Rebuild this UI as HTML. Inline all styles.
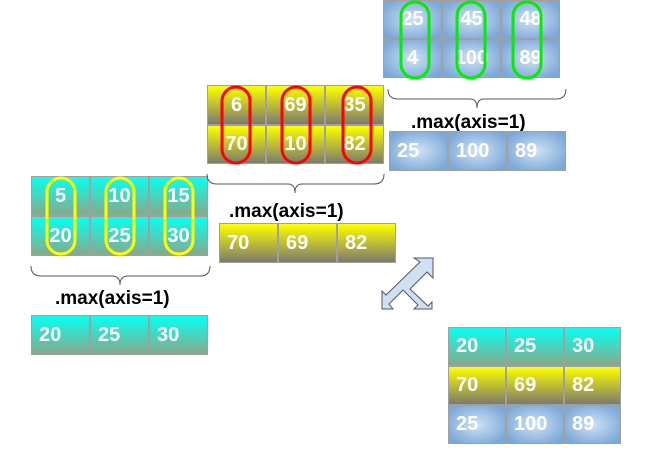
<!DOCTYPE html>
<html><head><style>
body{margin:0;width:646px;height:464px;background:#fff;position:relative;overflow:hidden;font-family:"Liberation Sans",sans-serif}
.c{position:absolute;box-sizing:border-box;border:1px solid #a0a0a0;color:#fff;font-weight:bold;font-size:20px;display:flex;align-items:center}
.cy{background:linear-gradient(#08fff0,#8aa88a)}
.yl{background:linear-gradient(#ffff00,#7c7a70)}
.bl{background:radial-gradient(ellipse at center,#cfe2f4 0%,#7ca8d8 85%)}
.ctr{justify-content:center}
.lft{padding-left:7px}
.lb{position:absolute;font-weight:bold;font-size:19px;color:#000}
svg{position:absolute;left:0;top:0}
</style></head><body>
<!-- cyan grid -->
<div class="c cy ctr" style="left:31px;top:176px;width:59px;height:40px">5</div>
<div class="c cy ctr" style="left:90px;top:176px;width:59px;height:40px">10</div>
<div class="c cy ctr" style="left:149px;top:176px;width:59px;height:40px">15</div>
<div class="c cy ctr" style="left:31px;top:216px;width:59px;height:40px">20</div>
<div class="c cy ctr" style="left:90px;top:216px;width:59px;height:40px">25</div>
<div class="c cy ctr" style="left:149px;top:216px;width:59px;height:40px">30</div>
<div class="lb" style="left:55px;top:288px">.max(axis=1)</div>
<div class="c cy lft" style="left:31px;top:315px;width:59px;height:40px">20</div>
<div class="c cy lft" style="left:90px;top:315px;width:59px;height:40px">25</div>
<div class="c cy lft" style="left:149px;top:315px;width:59px;height:40px">30</div>
<!-- yellow grid -->
<div class="c yl ctr" style="left:207px;top:85px;width:59px;height:40px">6</div>
<div class="c yl ctr" style="left:266px;top:85px;width:59px;height:40px">69</div>
<div class="c yl ctr" style="left:325px;top:85px;width:59px;height:40px">35</div>
<div class="c yl ctr" style="left:207px;top:125px;width:59px;height:39px">70</div>
<div class="c yl ctr" style="left:266px;top:125px;width:59px;height:39px">10</div>
<div class="c yl ctr" style="left:325px;top:125px;width:59px;height:39px">82</div>
<div class="lb" style="left:229px;top:201px">.max(axis=1)</div>
<div class="c yl lft" style="left:219px;top:223px;width:59px;height:40px">70</div>
<div class="c yl lft" style="left:278px;top:223px;width:59px;height:40px">69</div>
<div class="c yl lft" style="left:337px;top:223px;width:59px;height:40px">82</div>
<!-- blue grid -->
<div class="c bl ctr" style="left:383px;top:0px;width:59px;height:39px">25</div>
<div class="c bl ctr" style="left:442px;top:0px;width:59px;height:39px">45</div>
<div class="c bl ctr" style="left:501px;top:0px;width:59px;height:39px">48</div>
<div class="c bl ctr" style="left:383px;top:39px;width:59px;height:39px">4</div>
<div class="c bl ctr" style="left:442px;top:39px;width:59px;height:39px">100</div>
<div class="c bl ctr" style="left:501px;top:39px;width:59px;height:39px">89</div>
<div class="lb" style="left:411px;top:112px">.max(axis=1)</div>
<div class="c bl lft" style="left:389px;top:131px;width:59px;height:40px">25</div>
<div class="c bl lft" style="left:448px;top:131px;width:59px;height:40px">100</div>
<div class="c bl lft" style="left:507px;top:131px;width:59px;height:40px">89</div>
<!-- final -->
<div class="c cy lft" style="left:448px;top:327px;width:58px;height:39px">20</div>
<div class="c cy lft" style="left:506px;top:327px;width:58px;height:39px">25</div>
<div class="c cy lft" style="left:564px;top:327px;width:57px;height:39px">30</div>
<div class="c yl lft" style="left:448px;top:366px;width:58px;height:39px">70</div>
<div class="c yl lft" style="left:506px;top:366px;width:58px;height:39px">69</div>
<div class="c yl lft" style="left:564px;top:366px;width:57px;height:39px">82</div>
<div class="c bl lft" style="left:448px;top:405px;width:58px;height:39px">25</div>
<div class="c bl lft" style="left:506px;top:405px;width:58px;height:39px">100</div>
<div class="c bl lft" style="left:564px;top:405px;width:57px;height:39px">89</div>
<svg width="646" height="464" viewBox="0 0 646 464">
<g fill="none" stroke-width="3">
<g stroke="#ffff00">
<rect x="47" y="178" width="28" height="76" rx="14"/>
<rect x="106" y="178" width="28" height="76" rx="14"/>
<rect x="165" y="178" width="28" height="76" rx="14"/>
</g>
<g stroke="#ff0000">
<rect x="222" y="87" width="28" height="76" rx="14"/>
<rect x="282" y="87" width="28" height="76" rx="14"/>
<rect x="343" y="87" width="28" height="76" rx="14"/>
</g>
<g stroke="#00ee00">
<rect x="401" y="2" width="28" height="76" rx="14"/>
<rect x="457" y="2" width="28" height="76" rx="14"/>
<rect x="513" y="2" width="28" height="76" rx="14"/>
</g>
</g>
<g fill="none" stroke="#555" stroke-width="1">
<path d="M31 266 Q31 276 41 276 L112 276 Q120 276 120 285 Q120 276 128 276 L200 276 Q210 276 210 266"/>
<path d="M207 174 Q207 184 217 184 L288 184 Q295 184 295 193 Q295 184 302 184 L374 184 Q384 184 384 174"/>
<path d="M388 89 Q388 99 398 99 L470 99 Q477 99 477 108 Q477 99 484 99 L556 99 Q566 99 566 89"/>
</g>
<polygon fill="#cfe0f2" stroke="#556" stroke-width="1" points="433,258 433,278 427,272 410,289 428,306 432,302 432,309 414,309 418,305 403,290 389,304 393,309 382,309 382,291 386,295 420,262 414,258"/>
</svg>
</body></html>
